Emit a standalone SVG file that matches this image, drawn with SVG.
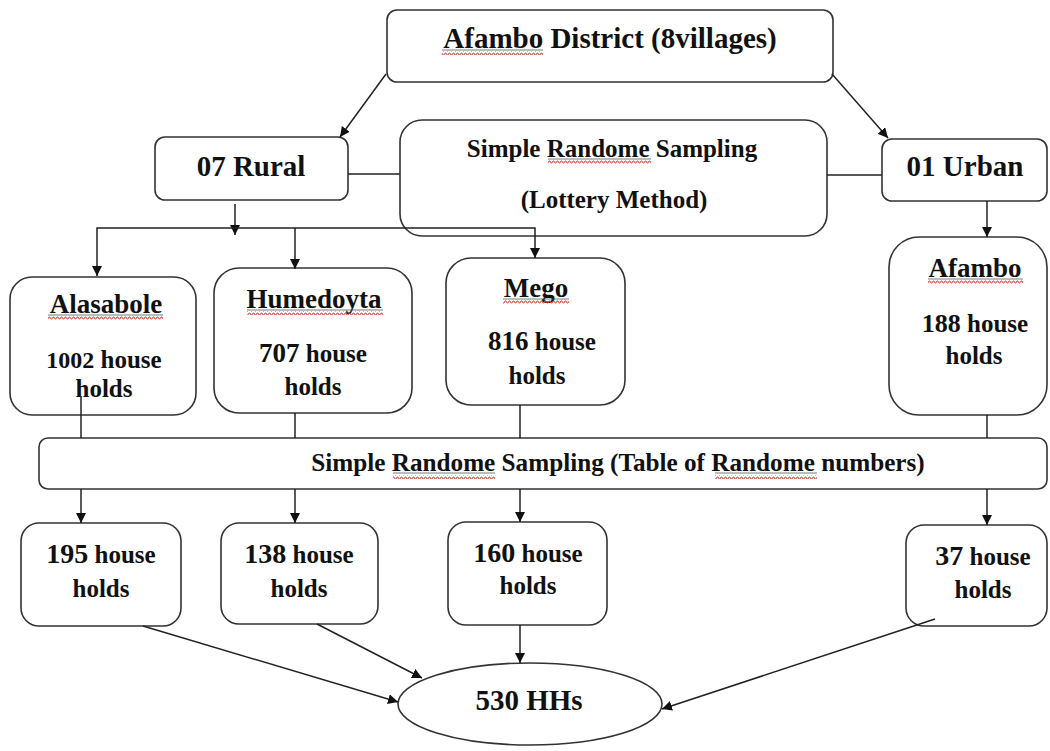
<svg xmlns="http://www.w3.org/2000/svg" width="1050" height="751" viewBox="0 0 1050 751">
<defs>
<style>
.box{fill:#fff;stroke:#333;stroke-width:1.6}
.t{font-family:"Liberation Serif","Times New Roman",serif;font-weight:bold;fill:#111;text-anchor:middle}
.c{stroke:#222;stroke-width:1.5;fill:none}
.sq{fill:url(#sq)}
.ul{stroke:#555;stroke-width:0.8}
</style>
<marker id="ah" markerWidth="10" markerHeight="10" refX="10" refY="5" orient="auto" markerUnits="userSpaceOnUse" viewBox="0 0 10 10">
<path d="M0,0 L10,5 L0,10 Z" fill="#111"/>
</marker>
<pattern id="sq" width="4" height="4" patternUnits="userSpaceOnUse">
<path d="M0,3 L1,1 L2,1 L3,3 L4,3" stroke="#e03030" stroke-width="0.9" fill="none"/>
</pattern>
</defs>
<rect width="1050" height="751" fill="#fff"/>

<g id="n-district">
<rect class="box" x="387" y="10" width="446" height="72" rx="10"/>
<text class="t" x="610" y="48" font-size="29">Afambo District (8villages)</text>
<line class="ul" x1="442" y1="50" x2="543" y2="50"/>
<rect class="sq" x="442" y="51" width="101" height="4"/>
</g>
<g id="n-rural">
<rect class="box" x="155" y="137" width="193" height="63" rx="10"/>
<text class="t" x="251" y="176" font-size="29">07 Rural</text>
</g>
<g id="n-srs1">
<rect class="box" x="400" y="120" width="427" height="116" rx="22"/>
<text class="t" x="612" y="157" font-size="25">Simple Randome Sampling</text>
<text class="t" x="614" y="208" font-size="25">(Lottery Method)</text>
<line class="ul" x1="548" y1="159" x2="651" y2="159"/>
<rect class="sq" x="548" y="160" width="103" height="4"/>
</g>
<g id="n-urban">
<rect class="box" x="882" y="139" width="165" height="62" rx="10"/>
<text class="t" x="965" y="176" font-size="29">01 Urban</text>
</g>
<g id="n-alasabole">
<rect class="box" x="10" y="277" width="186" height="138" rx="22"/>
<text class="t" x="106" y="313" font-size="27">Alasabole</text>
<line class="ul" x1="48" y1="315" x2="163" y2="315"/>
<rect class="sq" x="48" y="316" width="115" height="4"/>
<text class="t" x="104" y="368"><tspan font-size="24">1002</tspan><tspan font-size="25"> house</tspan></text>
<text class="t" x="104" y="397" font-size="25">holds</text>
</g>
<g id="n-humedoyta">
<rect class="box" x="214" y="268" width="198" height="145" rx="25"/>
<text class="t" x="314" y="308" font-size="27">Humedoyta</text>
<line class="ul" x1="247" y1="310" x2="383" y2="310"/>
<rect class="sq" x="247" y="311" width="136" height="4"/>
<text class="t" x="313" y="362"><tspan font-size="27">707</tspan><tspan font-size="25"> house</tspan></text>
<text class="t" x="313" y="395" font-size="25">holds</text>
</g>
<g id="n-mego">
<rect class="box" x="446" y="258" width="179" height="147" rx="25"/>
<text class="t" x="536" y="297" font-size="27">Mego</text>
<line class="ul" x1="503" y1="299" x2="569" y2="299"/>
<rect class="sq" x="503" y="300" width="66" height="4"/>
<text class="t" x="542" y="350"><tspan font-size="27">816</tspan><tspan font-size="25"> house</tspan></text>
<text class="t" x="537" y="384" font-size="25">holds</text>
</g>
<g id="n-afambo">
<rect class="box" x="889" y="237" width="158" height="178" rx="30"/>
<text class="t" x="975" y="277" font-size="27">Afambo</text>
<line class="ul" x1="928" y1="279" x2="1023" y2="279"/>
<rect class="sq" x="928" y="280" width="95" height="4"/>
<text class="t" x="975" y="332"><tspan font-size="26">188</tspan><tspan font-size="25"> house</tspan></text>
<text class="t" x="974" y="364" font-size="25">holds</text>
</g>
<g id="n-srs2">
<rect class="box" x="39" y="438" width="1008" height="51" rx="9"/>
<text class="t" x="618" y="471" font-size="25.2">Simple Randome Sampling (Table of Randome numbers)</text>
<line class="ul" x1="393" y1="473" x2="495" y2="473"/>
<line class="ul" x1="715" y1="473" x2="817" y2="473"/>
<rect class="sq" x="393" y="475" width="102" height="4"/>
<rect class="sq" x="715" y="475" width="102" height="4"/>
</g>
<g id="n-195">
<rect class="box" x="21" y="523" width="160" height="103" rx="18"/>
<text class="t" x="101" y="563"><tspan font-size="28">195</tspan><tspan font-size="25"> house</tspan></text>
<text class="t" x="101" y="597" font-size="25">holds</text>
</g>
<g id="n-138">
<rect class="box" x="221" y="523" width="157" height="101" rx="18"/>
<text class="t" x="299" y="563"><tspan font-size="28">138</tspan><tspan font-size="25"> house</tspan></text>
<text class="t" x="299" y="597" font-size="25">holds</text>
</g>
<g id="n-160">
<rect class="box" x="448" y="522" width="159" height="103" rx="18"/>
<text class="t" x="528" y="562"><tspan font-size="28">160</tspan><tspan font-size="25"> house</tspan></text>
<text class="t" x="528" y="594" font-size="25">holds</text>
</g>
<g id="n-37">
<rect class="box" x="906" y="525" width="141" height="101" rx="18"/>
<text class="t" x="983" y="565"><tspan font-size="28">37</tspan><tspan font-size="25"> house</tspan></text>
<text class="t" x="983" y="598" font-size="25">holds</text>
</g>
<g id="n-total">
<ellipse class="box" cx="530" cy="704" rx="132" ry="41"/>
<text class="t" x="529" y="710" font-size="29">530 HHs</text>
</g>

<g id="connectors">
<line class="c" x1="386" y1="74" x2="340" y2="137" marker-end="url(#ah)"/>
<line class="c" x1="832" y1="74" x2="888" y2="138" marker-end="url(#ah)"/>
<line class="c" x1="348" y1="174" x2="400" y2="174"/>
<line class="c" x1="827" y1="175" x2="882" y2="175"/>
<line class="c" x1="235" y1="204" x2="235" y2="235" marker-end="url(#ah)"/>
<polyline class="c" points="97,240 97,228 535,228 535,258" marker-end="url(#ah)"/>
<line class="c" x1="97" y1="240" x2="97" y2="276" marker-end="url(#ah)"/>
<line class="c" x1="295" y1="228" x2="295" y2="269" marker-end="url(#ah)"/>
<line class="c" x1="987" y1="201" x2="987" y2="237" marker-end="url(#ah)"/>
<line class="c" x1="81" y1="397" x2="81" y2="438"/>
<line class="c" x1="295" y1="413" x2="295" y2="438"/>
<line class="c" x1="520" y1="405" x2="520" y2="438"/>
<line class="c" x1="987" y1="415" x2="987" y2="438"/>
<line class="c" x1="81" y1="489" x2="81" y2="523" marker-end="url(#ah)"/>
<line class="c" x1="295" y1="489" x2="295" y2="523" marker-end="url(#ah)"/>
<line class="c" x1="520" y1="489" x2="520" y2="522" marker-end="url(#ah)"/>
<line class="c" x1="987" y1="489" x2="987" y2="525" marker-end="url(#ah)"/>
<line class="c" x1="143" y1="626" x2="398" y2="702" marker-end="url(#ah)"/>
<line class="c" x1="317" y1="624" x2="422" y2="678" marker-end="url(#ah)"/>
<line class="c" x1="520" y1="625" x2="520" y2="663" marker-end="url(#ah)"/>
<line class="c" x1="935" y1="619" x2="662" y2="709" marker-end="url(#ah)"/>
</g>
</svg>
